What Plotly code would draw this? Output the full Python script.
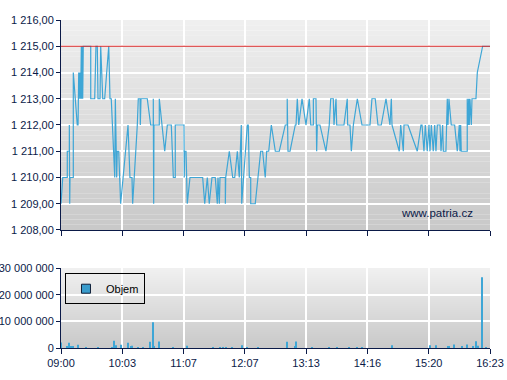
import plotly.graph_objects as go

# ---- data (minutes after 09:00 opening) ----
price_minutes = [0, 1.8, 6.5, 6.5, 8.6, 8.6, 9.0, 9.3, 12.7, 12.7, 16.8, 17.6, 18.3, 18.9, 19.6, 20.3,
                 21.0, 21.4, 22.0, 22.4, 23.0, 25.1, 30.7, 30.7, 34.8, 36.1, 37.5, 38.2, 40.3, 41.0,
                 43.1, 45.1, 49.3, 50.6, 51.9, 55.5, 56.1, 57.5, 58.1, 59.6, 61.6, 69.2, 71.2, 73.3,
                 74.0, 78.8, 79.8, 81.6, 81.9, 82.6, 89.1, 92.6, 95.3, 95.3, 95.7, 96.0, 101.5, 101.5,
                 107.1, 109.8, 113.9, 115.3, 116.0, 118.0, 118.0, 127.0, 127.3, 127.7, 129.1, 130.4,
                 133.2, 146.3, 148.4, 151.1, 153.1, 155.9, 159.3, 161.4, 162.1, 163.5, 164.2, 169.7,
                 169.7, 170.1, 173.8, 177.3, 179.4, 182.1, 184.1, 186.2, 186.6, 190.3, 192.4, 193.4,
                 194.5, 195.9, 195.9, 200.6, 206.2, 208.2, 210.9, 212.4, 214.5, 217.2, 221.3, 225.4,
                 231.6, 233.6, 233.6, 234.4, 236.5, 241.9, 242.7, 244.0, 245.5, 248.9, 253.0, 256.4,
                 257.9, 260.6, 260.6, 263.3, 264.0, 264.7, 267.4, 273.6, 277.0, 278.5, 281.2, 281.9,
                 284.0, 284.7, 292.2, 295.6, 296.0, 298.4, 299.8, 301.9, 306.0, 310.8, 319.1, 321.1,
                 324.5, 327.3, 330.7, 335.6, 339.7, 341.1, 341.8, 349.3, 350.8, 353.5, 354.2, 358.3,
                 367.9, 371.7, 372.8, 374.8, 376.2, 378.2, 380.0, 381.0, 382.4, 384.4, 385.9, 387.2,
                 388.6, 391.4, 392.4, 394.1, 394.8, 397.5, 398.9, 399.6, 400.6, 403.0, 406.5, 409.2,
                 411.3, 412.0, 412.7, 413.3, 414.8, 419.5, 419.5, 420.3, 421.0, 421.6, 422.3, 423.7,
                 424.4, 428.5, 429.9, 435.4, 443]
price_values = [1209, 1210, 1210, 1211, 1211, 1212, 1209, 1210, 1210, 1214, 1212, 1212, 1214, 1213, 1214, 1213,
                1215, 1213, 1215, 1213, 1215, 1215, 1215, 1213, 1213, 1215, 1215, 1213, 1213, 1215,
                1213, 1213, 1215, 1213, 1213, 1210, 1213, 1210, 1211, 1211, 1209, 1212, 1210, 1210,
                1209, 1212, 1213, 1213, 1212, 1213, 1213, 1212, 1212, 1213, 1209, 1212, 1212, 1213,
                1211, 1212, 1212, 1211, 1210, 1210, 1212, 1212, 1210, 1211, 1211, 1209,
                1210, 1210, 1209, 1210, 1209, 1210, 1210, 1209, 1210, 1209, 1210, 1210,
                1209, 1210, 1211, 1210, 1210, 1211, 1210, 1212, 1209, 1211, 1212, 1212,
                1210, 1210, 1209, 1209, 1211, 1211, 1210, 1211, 1211, 1212, 1211, 1211,
                1212, 1212, 1213, 1211, 1211, 1212, 1212, 1213, 1212, 1213, 1212, 1213,
                1212, 1212, 1213, 1213, 1211, 1212, 1212, 1211, 1212, 1213, 1213, 1212,
                1213, 1212, 1212, 1213, 1212, 1212, 1211, 1212, 1213, 1212, 1212, 1213,
                1213, 1212, 1212, 1213, 1212, 1213, 1212, 1211, 1212, 1211, 1212, 1212,
                1211, 1212, 1212, 1211, 1212, 1211, 1212, 1211, 1212, 1211, 1212, 1211,
                1212, 1212, 1211, 1212, 1211, 1211, 1213, 1212, 1213, 1212, 1212, 1211,
                1212, 1211, 1212, 1211, 1211, 1211, 1213, 1212, 1213, 1212, 1213, 1212,
                1213, 1213, 1214, 1215, 1215]

reference_price = 1215

vol_minutes = [0.3, 5.9, 8.3, 10.3, 12, 17.9, 25.5, 38.5, 53, 55, 56.5, 61.6, 69.5, 72, 73.6, 79.8,
               84.4, 92.2, 95.3, 96.3, 101.5, 116, 130.4, 157.3, 164.2, 167.6, 170.1, 176.9, 186.6,
               191.8, 203.7, 233.1, 233.7, 241.9, 243, 258.9, 277, 285.3, 297.7, 306, 311.1, 342.1,
               381.3, 387.5, 399.3, 400.3, 406.1, 414.4, 419.5, 425.7, 428.8, 430.3, 435.1, 439.2]
vol_values = [2.1e6, 0.5e6, 2.0e6, 0.4e6, 0.4e6, 1.2e6, 0.3e6, 0.3e6, 0.3e6, 2.7e6, 1.0e6, 1.2e6,
              2.0e6, 0.6e6, 0.8e6, 0.3e6, 0.3e6, 2.3e6, 9.7e6, 0.7e6, 2.4e6, 0.3e6, 0.8e6, 0.2e6,
              0.2e6, 0.3e6, 0.2e6, 0.3e6, 1.0e6, 0.3e6, 0.3e6, 0.4e6, 2.3e6, 0.5e6, 2.4e6, 0.3e6,
              0.2e6, 0.2e6, 0.2e6, 0.2e6, 0.2e6, 1.0e6, 1.0e6, 1.0e6, 0.4e6, 0.4e6, 1.3e6, 0.4e6,
              1.3e6, 0.4e6, 2.5e6, 0.8e6, 26.5e6, 0.3e6]

x_tick_labels = ["09:00", "10:03", "11:07", "12:07", "13:13", "14:16", "15:20", "16:23"]
session_length = 443
price_ticks = [1208, 1209, 1210, 1211, 1212, 1213, 1214, 1215, 1216]
vol_ticks = [0, 10_000_000, 20_000_000, 30_000_000]

# ---- styling ----
NAVY = "#0b1a48"
LINE = "#3ea6d6"
FONT = "Liberation Sans, Arial, sans-serif"
FS = 11

n_ticks = len(x_tick_labels)
x_tickvals = [session_length * i / (n_ticks - 1) for i in range(n_ticks)]


def cz_num(v, dec):
    s = f"{v:,.{dec}f}"
    return s.replace(",", " ").replace(".", ",")


fig = go.Figure()

fig.add_trace(go.Scatter(x=price_minutes, y=price_values, mode="lines",
                         line=dict(color=LINE, width=1.2), xaxis="x", yaxis="y",
                         showlegend=False, hoverinfo="skip"))
fig.add_trace(go.Scatter(x=[0, session_length], y=[reference_price, reference_price], mode="lines",
                         line=dict(color="#d42222", width=1), xaxis="x", yaxis="y",
                         showlegend=False, hoverinfo="skip"))
fig.add_trace(go.Bar(x=vol_minutes, y=vol_values, width=1.0,
                     marker=dict(color=LINE, line=dict(width=0)), xaxis="x2", yaxis="y2",
                     showlegend=False, hoverinfo="skip"))
fig.add_trace(go.Scatter(x=[None], y=[None], mode="markers", name="Objem",
                         marker=dict(symbol="square", size=9, color="#3a9ccc",
                                     line=dict(color="#10203a", width=1)),
                         xaxis="x2", yaxis="y2", showlegend=True))

# gradient backgrounds
shapes = []
n_stripes = 40
for ref, (c_top, c_bot) in [("y", (239, 201)), ("y2", (240, 201))]:
    for i in range(n_stripes):
        t = (i + 0.5) / n_stripes
        c = round(c_top + (c_bot - c_top) * t)
        shapes.append(dict(type="rect", xref="x domain" if ref == "y" else "x2 domain",
                           yref=f"{ref} domain", x0=0, x1=1,
                           y0=1 - i / n_stripes, y1=1 - (i + 1) / n_stripes,
                           fillcolor=f"rgb({c},{c},{c})", line=dict(width=0), layer="below"))

axis_common = dict(showline=True, linecolor=NAVY, linewidth=1, ticks="outside",
                   tickcolor=NAVY, gridcolor="white", gridwidth=1.5, zeroline=False,
                   automargin=False,
                   tickfont=dict(family=FONT, size=FS, color=NAVY))

fig.update_layout(
    width=507, height=380,
    margin=dict(l=61, r=17, t=20, b=32),
    paper_bgcolor="white", plot_bgcolor="rgba(0,0,0,0)",
    shapes=shapes,
    xaxis=dict(domain=[0, 1], anchor="y", range=[0, session_length], tickvals=x_tickvals,
               showticklabels=False, ticklen=5, **axis_common),
    yaxis=dict(domain=[0.3598, 1], anchor="x", range=[1208, 1216], tickvals=price_ticks,
               ticktext=[cz_num(v, 2) for v in price_ticks], ticklen=4, **axis_common),
    xaxis2=dict(domain=[0, 1], anchor="y2", range=[0, session_length], tickvals=x_tickvals,
                ticktext=x_tick_labels, ticklen=5, **axis_common),
    yaxis2=dict(domain=[0, 0.2439], anchor="x2", range=[0, 30_000_000], tickvals=vol_ticks,
                ticktext=[cz_num(v, 0) for v in vol_ticks], ticklen=4, **axis_common),
    legend=dict(x=0.0093, y=0.228, xanchor="left", yanchor="top", bgcolor="rgba(0,0,0,0)",
                bordercolor="black", borderwidth=1, itemwidth=30,
                font=dict(family=FONT, size=FS, color="black")),
    annotations=[dict(text="www.patria.cz", xref="paper", yref="paper", x=0.965, y=0.4116,
                      xanchor="right", yanchor="middle", showarrow=False,
                      font=dict(family=FONT, size=11.5, color=NAVY))],
    showlegend=True,
)

fig.write_html("out.html", config={"displayModeBar": False},
               post_script="document.body.style.margin='0';")
